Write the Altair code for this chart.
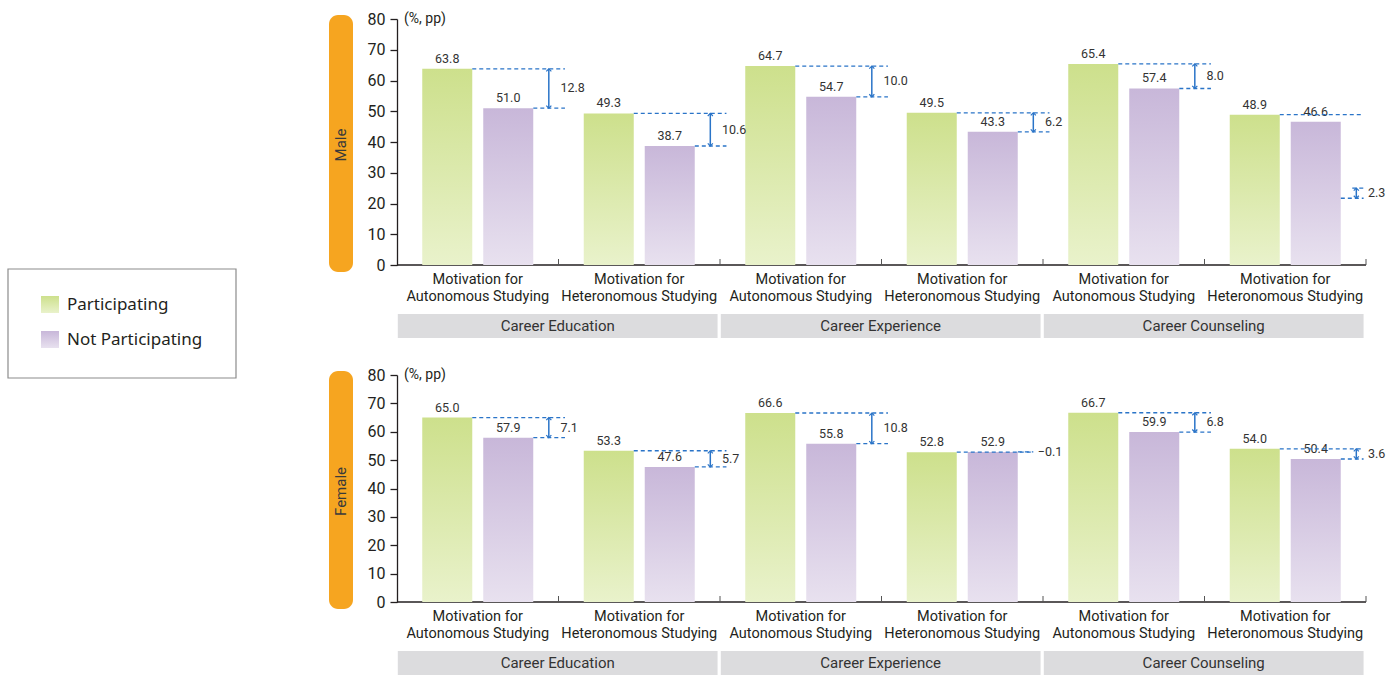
import altair as alt
import pandas as pd

# ---------------- data ----------------
series = ["Participating", "Not Participating"]
groups = ["Career Education", "Career Experience", "Career Counseling"]
motivations = ["Motivation for\nAutonomous Studying", "Motivation for\nHeteronomous Studying"]
y_ticks = [0, 10, 20, 30, 40, 50, 60, 70, 80]
unit_label = "(%, pp)"
panel_labels = ["Male", "Female"]

male_participating = [63.8, 49.3, 64.7, 49.5, 65.4, 48.9]
male_not_participating = [51.0, 38.7, 54.7, 43.3, 57.4, 46.6]
male_gap_labels = ["12.8", "10.6", "10.0", "6.2", "8.0", "2.3"]
# in the original figure the last male gap bracket is drawn lower down
male_bracket_low = [None, None, None, None, None, 21.7]
male_bracket_high = [None, None, None, None, None, 25.0]

female_participating = [65.0, 53.3, 66.6, 52.8, 66.7, 54.0]
female_not_participating = [57.9, 47.6, 55.8, 52.9, 59.9, 50.4]
female_gap_labels = ["7.1", "5.7", "10.8", "\u22120.1", "6.8", "3.6"]
female_bracket_low = [None] * 6
female_bracket_high = [None] * 6

# ---------------- style ----------------
INK = "#231f20"
TXT = "#333333"
BLUE = "#2a74c8"
ORANGE = "#f6a520"
BAND_GRAY = "#dcdcde"
FONT = "Roboto"
W = 969

SLOTS = [f"{g}|{m}" for g in groups for m in range(len(motivations))]
SLOT_LABELS = [motivations[m] for g in groups for m in range(len(motivations))]


def grad(top, bottom):
    return alt.LinearGradient(
        gradient="linear",
        stops=[alt.GradientStop(color=top, offset=0), alt.GradientStop(color=bottom, offset=1)],
        x1=1, x2=1, y1=0, y2=1,
    )


GREEN = grad("#cde08c", "#e9f2cb")
PURPLE = grad("#c8b7d9", "#e8e1ef")
SERIES_FILL = [GREEN, PURPLE]

slot_scale = alt.Scale(type="band", domain=SLOTS, paddingInner=0, paddingOuter=0)
y_scale = alt.Scale(domain=[0, 80], nice=False)
y_axis = alt.Axis(values=y_ticks, title=None, grid=False, tickSize=7, tickWidth=1.3,
                  tickColor=INK, domainColor=INK, domainWidth=1.3, labelFont=FONT,
                  labelFontSize=16, labelColor=INK, labelPadding=5, labelFlush=False,
                  zindex=2)


def X(field="slot", bp=None):
    if bp is None:
        return alt.X(f"{field}:N", scale=slot_scale, axis=None)
    return alt.X(f"{field}:N", scale=slot_scale, axis=None, bandPosition=bp)


def X2(field="slot", bp=0.5):
    return alt.X2(field, bandPosition=bp)


def Y(field):
    return alt.Y(f"{field}:Q", scale=y_scale, axis=y_axis)


OFF = alt.XOffset("series:N", scale=alt.Scale(domain=series, paddingInner=0.18, paddingOuter=0.414))

GREEN_EDGE = 0.466
PURPLE_EDGE = 0.844
ARROW_BP = 0.94


def panel(p, q, gaps, blow, bhigh, H, side, legend):
    one = pd.DataFrame({"side": [side]})
    layers = []
    if legend:
        layers.append(alt.Chart(one).mark_rect(color="white").encode(
            x=alt.value(-397), x2=alt.value(1002), y=alt.value(-19), y2=alt.value(656)))

    # orange side tab
    layers.append(alt.Chart(one).mark_rect(color=ORANGE, cornerRadius=9).encode(
        x=alt.value(-68), x2=alt.value(-44), y=alt.value(-4), y2=alt.value(H + 7)))
    layers.append(alt.Chart(one).mark_text(angle=270, fontSize=15, font=FONT, color="#3a3a3a",
                                            align="center", baseline="middle").encode(
        x=alt.value(-56), y=alt.value(H / 2 + 3), text="side:N"))

    # unit label
    layers.append(alt.Chart(pd.DataFrame({"u": [unit_label]})).mark_text(
        align="left", baseline="middle", fontSize=14, font=FONT, color=INK).encode(
        x=alt.value(7), y=alt.value(0), text="u:N"))

    # category bands
    gdf = pd.DataFrame({"group": groups, "a": SLOTS[0::2], "b": SLOTS[1::2]})
    layers.append(alt.Chart(gdf).mark_rect(color=BAND_GRAY).encode(
        x=X("a", 0.005), x2=X2("b", 0.985), y=alt.value(H + 49), y2=alt.value(H + 73)))
    layers.append(alt.Chart(gdf).mark_text(fontSize=15, font=FONT, color=TXT, baseline="middle").encode(
        x=X("a", 0.995), y=alt.value(H + 61), text="group:N"))

    # x labels
    sdf = pd.DataFrame({"slot": SLOTS, "label": SLOT_LABELS})
    layers.append(alt.Chart(sdf).mark_text(lineBreak="\n", baseline="middle", fontSize=14.5,
                                            lineHeight=16.5, font=FONT, color=INK).encode(
        x=X(), y=alt.value(H + 15), text="label:N"))

    # baseline and slot ticks
    layers.append(alt.Chart(one).mark_rule(color=INK, strokeWidth=1.3).encode(
        x=alt.value(0), x2=alt.value(W), y=alt.value(H)))
    layers.append(alt.Chart(sdf).mark_rule(color="#555555", strokeWidth=1).encode(
        x=X(bp=1.0), y=alt.value(H), y2=alt.value(H - 6)))

    # bars
    bdf = pd.DataFrame({"slot": SLOTS * 2,
                        "series": [series[0]] * len(SLOTS) + [series[1]] * len(SLOTS),
                        "value": list(p) + list(q)})
    for k, name in enumerate(series):
        layers.append(alt.Chart(bdf[bdf.series == name]).mark_bar(color=SERIES_FILL[k]).encode(
            x=X(), xOffset=OFF, y=Y("value")))
    layers.append(alt.Chart(bdf).mark_text(baseline="alphabetic", dy=-6, fontSize=12.5, font=FONT,
                                           color=TXT).encode(
        x=X(), xOffset=OFF, y=Y("value"), text=alt.Text("value:Q", format=".1f")))

    # gap annotations
    rows = []
    n = len(SLOTS)
    for i, s in enumerate(SLOTS):
        moved = blow[i] is not None
        lo = blow[i] if moved else min(p[i], q[i])
        hi = bhigh[i] if moved else max(p[i], q[i])
        arrow = (hi - lo) >= 1
        if i == n - 1:
            eslot, ebp = s, 0.985
        elif arrow:
            eslot, ebp = SLOTS[i + 1], 0.04
        else:
            eslot, ebp = s, 0.94
        lbp = 1.0 if arrow else 0.955
        rows.append(dict(slot=s, eslot=eslot, ebp=ebp, lbp=lbp, p=p[i], q=lo if moved else q[i],
                         lo=lo, hi=hi, mid=(lo + hi) / 2, gap=gaps[i], arrow=arrow, moved=moved))
    adf = pd.DataFrame(rows)
    dash = dict(color=BLUE, strokeWidth=1.3, strokeDash=[4, 3])
    for ebp in sorted(adf.ebp.unique()):
        sub = adf[adf.ebp == ebp]
        layers.append(alt.Chart(sub).mark_rule(**dash).encode(
            x=X(bp=GREEN_EDGE), x2=X2("eslot", float(ebp)), y=Y("p")))
        layers.append(alt.Chart(sub).mark_rule(**dash).encode(
            x=X(bp=PURPLE_EDGE), x2=X2("eslot", float(ebp)), y=Y("q")))
        mv = sub[sub.moved]
        if len(mv):
            layers.append(alt.Chart(mv).mark_rule(**dash).encode(
                x=X(bp=0.915), x2=X2("eslot", float(ebp)), y=Y("hi")))
    ar = adf[adf.arrow]
    layers.append(alt.Chart(ar).mark_rule(color=BLUE, strokeWidth=1.5).encode(
        x=X(bp=ARROW_BP), y=Y("lo"), y2=alt.Y2("hi")))
    layers.append(alt.Chart(ar).mark_point(shape="M-1,1L0,0L1,1", filled=False, size=26,
                                           strokeWidth=1.2, color=BLUE, opacity=1).encode(
        x=X(bp=ARROW_BP), y=Y("hi")))
    layers.append(alt.Chart(ar).mark_point(shape="M-1,-1L0,0L1,-1", filled=False, size=26,
                                           strokeWidth=1.2, color=BLUE, opacity=1).encode(
        x=X(bp=ARROW_BP), y=Y("lo")))
    for lbp in sorted(adf.lbp.unique()):
        layers.append(alt.Chart(adf[adf.lbp == lbp]).mark_text(
            align="left", baseline="middle", dx=2, fontSize=12.5, font=FONT, color=TXT).encode(
            x=X(bp=float(lbp)), y=Y("mid"), text="gap:N"))

    # legend (manual box)
    if legend:
        layers.append(alt.Chart(one).mark_rect(fill="white", stroke="#8c8c8c", strokeWidth=1.2).encode(
            x=alt.value(-389), x2=alt.value(-161), y=alt.value(250), y2=alt.value(359)))
        for k, name in enumerate(series):
            ldf = pd.DataFrame({"series": [name]})
            layers.append(alt.Chart(ldf).mark_rect(color=SERIES_FILL[k]).encode(
                x=alt.value(-356), x2=alt.value(-338), y=alt.value(277 + 35 * k), y2=alt.value(294 + 35 * k)))
            layers.append(alt.Chart(ldf).mark_text(align="left", baseline="middle", fontSize=17,
                                                   font="Noto Sans", color=INK).encode(
                x=alt.value(-330), y=alt.value(286 + 35 * k), text="series:N"))

    return alt.layer(*layers).properties(width=W, height=H)


top = panel(male_participating, male_not_participating, male_gap_labels,
            male_bracket_low, male_bracket_high, 246, panel_labels[0], True)
bottom = panel(female_participating, female_not_participating, female_gap_labels,
               female_bracket_low, female_bracket_high, 227, panel_labels[1], False)

chart = alt.vconcat(top, bottom, spacing=110, bounds="flush", padding=0).configure_view(strokeWidth=0)

chart.save("out.html", embed_options={"renderer": "svg", "actions": False})
